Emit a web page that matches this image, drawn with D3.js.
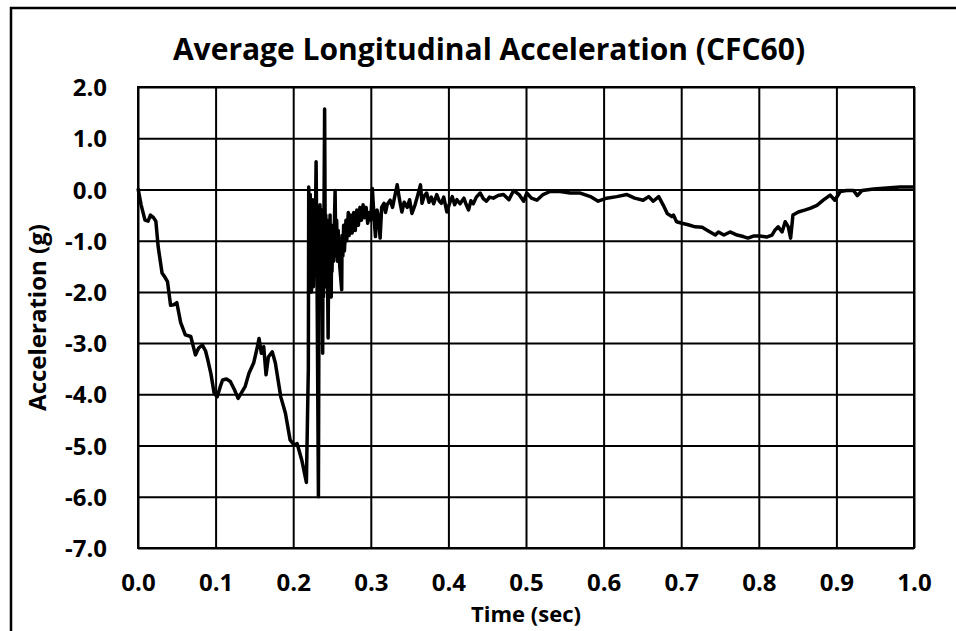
<!DOCTYPE html>
<html>
<head>
<meta charset="utf-8">
<script src="https://cdn.jsdelivr.net/npm/d3@7"></script>
<style>
  body { margin: 0; background: #fff; }
  text { font-family: "Open Sans", sans-serif; font-weight: bold; fill: #000; }
</style>
</head>
<body>
<div id="chart"></div>
<script>
// time (sec) and acceleration (g) - one row of each array matches the same row of the other
const timeSec = [
  0.000, 0.004, 0.009, 0.013, 0.016, 0.020, 0.023, 0.026, 0.031, 0.035,
  0.038, 0.042, 0.046, 0.050, 0.055, 0.061, 0.068, 0.074, 0.078, 0.083,
  0.087, 0.090, 0.094, 0.098, 0.102, 0.106, 0.109, 0.114, 0.119, 0.124,
  0.129, 0.134, 0.138, 0.143, 0.149, 0.153, 0.156, 0.159, 0.162, 0.165,
  0.168, 0.173, 0.177, 0.184, 0.190, 0.196, 0.201, 0.205, 0.211, 0.217,
  0.2195, 0.2200, 0.2205, 0.2210, 0.2215, 0.2220, 0.2225, 0.2230, 0.2235, 0.2240,
  0.2245, 0.2250, 0.2260, 0.2270, 0.2280, 0.2295, 0.2305, 0.2310, 0.2325, 0.2335,
  0.2340, 0.2345, 0.2350, 0.2355, 0.2360, 0.2370, 0.2380, 0.2385, 0.2390, 0.2405,
  0.2415, 0.2420, 0.2430, 0.2435, 0.2450, 0.2460, 0.2470, 0.2475, 0.2480, 0.2490,
  0.2495, 0.2500, 0.2510, 0.2520, 0.2540, 0.2550, 0.2560, 0.2570, 0.2580, 0.2590,
  0.2600, 0.2625, 0.2630, 0.2640, 0.2650, 0.2660, 0.2680, 0.2690, 0.2710, 0.2720,
  0.274, 0.276, 0.278, 0.280, 0.282, 0.284, 0.286, 0.288, 0.290, 0.292,
  0.294, 0.296, 0.298, 0.300, 0.302, 0.304, 0.306, 0.308, 0.310, 0.312,
  0.314, 0.317, 0.319, 0.321, 0.325, 0.328, 0.330, 0.334, 0.337, 0.340,
  0.343, 0.347, 0.350, 0.353, 0.357, 0.360, 0.364, 0.366, 0.369, 0.372,
  0.375, 0.378, 0.381, 0.385, 0.388, 0.391, 0.394, 0.398, 0.402, 0.405,
  0.408, 0.411, 0.415, 0.420, 0.423, 0.426, 0.429, 0.432, 0.436, 0.441,
  0.445, 0.449, 0.453, 0.458, 0.464, 0.471, 0.478, 0.484, 0.491, 0.497,
  0.501, 0.507, 0.514, 0.522, 0.531, 0.544, 0.557, 0.570, 0.583, 0.593,
  0.604, 0.617, 0.630, 0.640, 0.651, 0.658, 0.664, 0.671, 0.677, 0.682,
  0.688, 0.690, 0.694, 0.701, 0.709, 0.718, 0.727, 0.735, 0.744, 0.748,
  0.755, 0.763, 0.772, 0.780, 0.786, 0.793, 0.802, 0.810, 0.817, 0.821,
  0.825, 0.830, 0.834, 0.838, 0.841, 0.844, 0.851, 0.860, 0.866, 0.875,
  0.883, 0.892, 0.898, 0.905, 0.913, 0.922, 0.927, 0.933, 0.948, 0.965,
  0.982, 1.000
];
const accelG = [
  0.02, -0.30, -0.60, -0.62, -0.50, -0.55, -0.62, -1.12, -1.63, -1.72,
  -1.80, -2.26, -2.25, -2.21, -2.60, -2.84, -2.87, -3.23, -3.10, -3.04,
  -3.15, -3.33, -3.60, -3.97, -4.05, -3.85, -3.72, -3.70, -3.75, -3.90,
  -4.08, -3.95, -3.85, -3.59, -3.39, -3.13, -2.91, -3.20, -3.07, -3.62,
  -3.27, -3.17, -3.39, -4.05, -4.37, -4.89, -4.99, -4.96, -5.28, -5.72,
  -3.50, 0.05, -1.90, -0.30, -2.00, -0.10, -1.80, -0.60, -2.00, -0.40,
  -1.70, -0.20, -1.90, -0.80, -1.50, 0.54, -1.20, -2.40, -6.00, -0.50,
  -1.90, -0.30, -2.00, -0.60, -1.80, -0.40, -3.20, -1.00, -2.10, 1.57,
  -1.80, -0.50, -1.90, -0.60, -2.90, -0.60, -1.80, -0.50, -1.60, -2.10,
  -0.90, -1.60, -0.70, -1.40, -0.02, -1.30, -0.60, -1.40, -0.80, -1.20,
  -1.50, -1.96, -0.90, -1.30, -0.70, -1.20, -0.60, -1.00, -0.45, -0.90,
  -0.50, -0.85, -0.45, -0.80, -0.40, -0.70, -0.35, -0.60, -0.30, -0.55,
  -0.35, -0.66, -0.45, -0.60, 0.02, -0.50, -0.92, -0.40, -0.55, -0.95,
  -0.35, -0.27, -0.45, -0.30, -0.21, -0.35, -0.20, 0.09, -0.20, -0.44,
  -0.25, -0.35, -0.20, -0.47, -0.30, -0.14, 0.09, -0.27, -0.12, -0.07,
  -0.25, -0.15, -0.28, -0.10, -0.22, -0.27, -0.15, -0.44, -0.25, -0.14,
  -0.30, -0.20, -0.28, -0.17, -0.30, -0.40, -0.22, -0.28, -0.15, -0.07,
  -0.18, -0.23, -0.15, -0.17, -0.12, -0.10, -0.20, -0.02, -0.10, -0.23,
  -0.07, -0.17, -0.21, -0.10, -0.04, -0.04, -0.07, -0.07, -0.14, -0.23,
  -0.17, -0.14, -0.10, -0.17, -0.21, -0.14, -0.23, -0.14, -0.31, -0.47,
  -0.53, -0.50, -0.63, -0.66, -0.69, -0.73, -0.74, -0.81, -0.89, -0.83,
  -0.89, -0.83, -0.89, -0.92, -0.95, -0.91, -0.91, -0.93, -0.89, -0.79,
  -0.73, -0.83, -0.63, -0.73, -0.95, -0.50, -0.44, -0.40, -0.37, -0.31,
  -0.21, -0.11, -0.21, -0.04, -0.02, -0.02, -0.12, -0.02, 0.01, 0.03,
  0.05, 0.05
];
const xTicks = [0, 0.1, 0.2, 0.3, 0.4, 0.5, 0.6, 0.7, 0.8, 0.9, 1.0];
const yTicks = [2, 1, 0, -1, -2, -3, -4, -5, -6, -7];

const W = 956, H = 631;
const margin = { top: 87, right: 42, bottom: 83, left: 138 };
const width = W - margin.left - margin.right,
  height = H - margin.top - margin.bottom;

// plain hyphen for negatives, like the original
const fmt = d => d.toFixed(1);

const svg = d3.select("#chart").append("svg")
  .attr("width", W)
  .attr("height", H);

// outer frame (runs off the right and bottom of the picture)
svg.append("rect")
  .attr("x", 11).attr("y", 8)
  .attr("width", 1000).attr("height", 1000)
  .attr("fill", "none")
  .attr("stroke", "#000")
  .attr("stroke-width", 2.5);

const g = svg.append("g")
  .attr("transform", `translate(${margin.left},${margin.top})`);

const x = d3.scaleLinear().domain([0, 1]).range([0, width]);
const y = d3.scaleLinear().domain([-7, 2]).range([height, 0]);

// grid
g.append("g")
  .call(d3.axisLeft(y).tickValues(yTicks).tickSize(-width).tickFormat(""))
  .call(s => s.select(".domain").remove())
  .selectAll("line").attr("stroke", "#000").attr("stroke-width", 2);

g.append("g")
  .attr("transform", `translate(0,${height})`)
  .call(d3.axisBottom(x).tickValues(xTicks).tickSize(-height).tickFormat(""))
  .call(s => s.select(".domain").remove())
  .selectAll("line").attr("stroke", "#000").attr("stroke-width", 2);

g.append("rect")
  .attr("width", width).attr("height", height)
  .attr("fill", "none").attr("stroke", "#000").attr("stroke-width", 2);

// tick labels
g.append("g")
  .attr("transform", `translate(-28,0)`)
  .call(d3.axisLeft(y).tickValues(yTicks).tickSize(0).tickFormat(fmt))
  .call(s => s.select(".domain").remove())
  .selectAll("text")
  .style("font-size", "24px")
  .style("font-family", "Open Sans")
  .style("font-weight", "bold")
  .attr("dy", "0.36em");

g.append("g")
  .attr("transform", `translate(0,${height + 23})`)
  .call(d3.axisBottom(x).tickValues(xTicks).tickSize(0).tickFormat(fmt))
  .call(s => s.select(".domain").remove())
  .selectAll("text")
  .style("font-size", "24px")
  .style("font-family", "Open Sans")
  .style("font-weight", "bold");

// data line
const line = d3.line()
  .x((d, i) => x(timeSec[i]))
  .y(d => y(d));

g.append("path")
  .datum(accelG)
  .attr("d", line)
  .attr("fill", "none")
  .attr("stroke", "#000")
  .attr("stroke-width", 3.5)
  .attr("stroke-linejoin", "round");

// titles
svg.append("text")
  .attr("x", 489).attr("y", 60)
  .attr("text-anchor", "middle")
  .style("font-size", "30px")
  .text("Average Longitudinal Acceleration (CFC60)");

svg.append("text")
  .attr("x", margin.left + width / 2).attr("y", 622)
  .attr("text-anchor", "middle")
  .style("font-size", "22px")
  .text("Time (sec)");

svg.append("text")
  .attr("transform", `translate(46,${margin.top + height / 2}) rotate(-90)`)
  .attr("text-anchor", "middle")
  .style("font-size", "24px")
  .text("Acceleration (g)");
</script>
</body>
</html>
